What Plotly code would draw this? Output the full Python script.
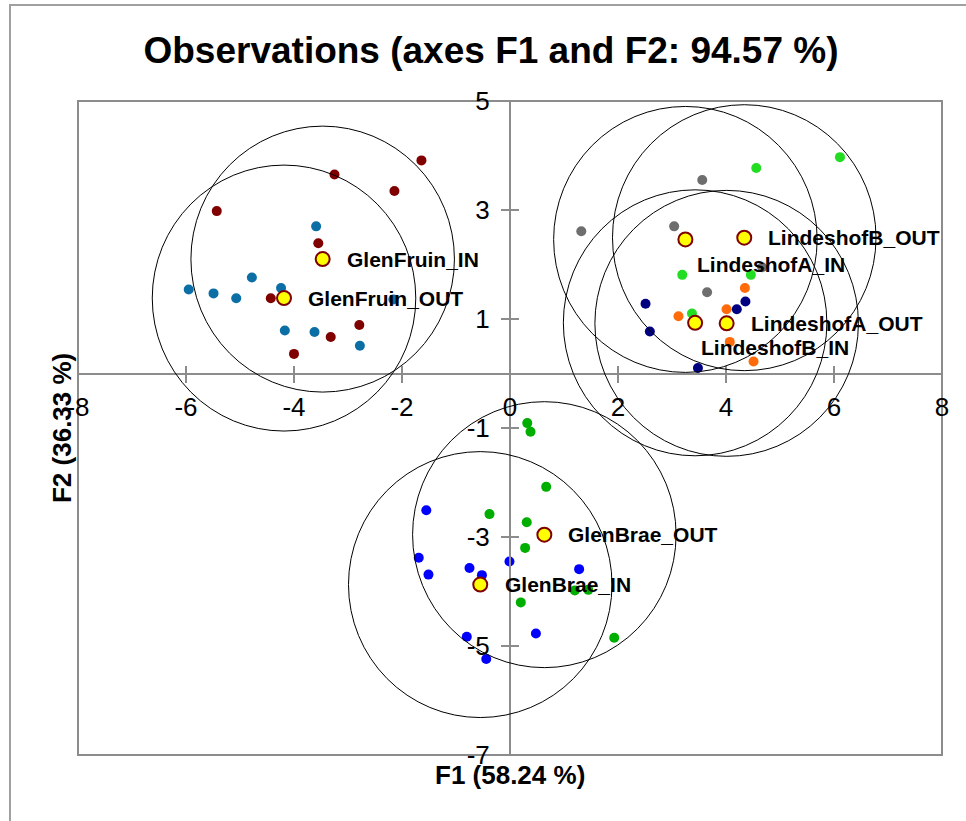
import plotly.graph_objects as go
import numpy as np

# ---------------- data ----------------
groups = ["GlenFruin_IN", "GlenFruin_OUT", "LindeshofA_IN", "LindeshofB_OUT",
          "LindeshofA_OUT", "LindeshofB_IN", "GlenBrae_OUT", "GlenBrae_IN"]

glenfruin_in_x = [-1.64, -3.25, -2.14, -5.43, -3.55, -4.43, -4.14, -2.79, -3.32, -4.00]
glenfruin_in_y = [3.91, 3.65, 3.35, 2.98, 2.39, 1.38, 1.41, 0.89, 0.67, 0.36]
glenfruin_out_x = [-3.59, -4.78, -5.95, -5.49, -5.07, -4.24, -2.16, -4.17, -3.62, -2.78]
glenfruin_out_y = [2.70, 1.76, 1.54, 1.47, 1.38, 1.57, 1.36, 0.79, 0.76, 0.51]
lindeshofA_in_x = [3.56, 1.32, 3.04, 3.65, 4.67]
lindeshofA_in_y = [3.55, 2.61, 2.70, 1.49, 1.95]
lindeshofB_out_x = [6.11, 4.56, 3.19, 4.46, 3.37]
lindeshofB_out_y = [3.97, 3.77, 1.81, 1.81, 1.10]
lindeshofA_out_x = [4.35, 4.01, 3.12, 4.07, 4.51]
lindeshofA_out_y = [1.57, 1.18, 1.05, 0.58, 0.22]
lindeshofB_in_x = [2.51, 4.36, 4.20, 2.59, 3.48]
lindeshofB_in_y = [1.28, 1.32, 1.18, 0.77, 0.10]
glenbrae_out_x = [0.32, 0.38, 0.67, -0.38, 0.31, 0.28, 1.20, 1.45, 0.20, 1.93]
glenbrae_out_y = [-0.91, -1.07, -2.08, -2.58, -2.73, -3.20, -3.98, -3.97, -4.20, -4.85]
glenbrae_in_x = [-1.55, -1.69, -1.51, -0.75, -0.52, -0.01, 1.28, -0.80, -0.44, 0.48]
glenbrae_in_y = [-2.51, -3.38, -3.69, -3.57, -3.70, -3.45, -3.59, -4.83, -5.24, -4.77]

circle_radius = [2.44, 2.44, 2.44, 2.44, 2.44, 2.44, 2.44, 2.44]

x_ticks = [-8, -6, -4, -2, 0, 2, 4, 6, 8]
x_tick_labels = ["-8", "-6", "-4", "-2", "0", "2", "4", "6", "8"]
y_ticks = [-7, -5, -3, -1, 1, 3, 5]
y_tick_labels = ["-7", "-5", "-3", "-1", "1", "3", "5"]

title_text = "Observations (axes F1 and F2: 94.57 %)"
x_title = "F1 (58.24 %)"
y_title = "F2 (36.33 %)"

# ---------------- styles ----------------
point_x = [glenfruin_in_x, glenfruin_out_x, lindeshofA_in_x, lindeshofB_out_x,
           lindeshofA_out_x, lindeshofB_in_x, glenbrae_out_x, glenbrae_in_x]
point_y = [glenfruin_in_y, glenfruin_out_y, lindeshofA_in_y, lindeshofB_out_y,
           lindeshofA_out_y, lindeshofB_in_y, glenbrae_out_y, glenbrae_in_y]
colors = ["#800000", "#0B6FA6", "#6E6E6E", "#22DD22",
          "#FF6A0A", "#000080", "#00AE00", "#0000FF"]
# label pixel offsets (xshift, yshift)
label_shift = [(22, 0), (22, 0), (10, -25), (22, 0), (22, 0), (4, -25), (22, 0), (23, 0)]

FONT = "Arial, Liberation Sans, sans-serif"
GRAY = "#8C8C8C"

fig = go.Figure()

for name, xs, ys, c in zip(groups, point_x, point_y, colors):
    fig.add_trace(go.Scatter(x=xs, y=ys, mode="markers", name=name,
                             marker=dict(size=10, color=c, line=dict(width=0)),
                             showlegend=False, hoverinfo="x+y"))

cx = [float(np.mean(v)) for v in point_x]
cy = [float(np.mean(v)) for v in point_y]

shapes = []
for x0, y0, r in zip(cx, cy, circle_radius):
    shapes.append(dict(type="circle", xref="x", yref="y",
                       x0=x0 - r, x1=x0 + r, y0=y0 - r, y1=y0 + r,
                       line=dict(color="black", width=1), layer="above"))

fig.add_trace(go.Scatter(x=cx, y=cy, mode="markers", showlegend=False,
                         marker=dict(size=14, color="#FFFF00",
                                     line=dict(color="#800000", width=2)),
                         text=groups, hoverinfo="text"))

# invisible trace to activate the overlay axes (cross ticks)
fig.add_trace(go.Scatter(x=[0], y=[0], xaxis="x2", yaxis="y2", mode="markers",
                         marker=dict(opacity=0), showlegend=False, hoverinfo="skip"))

annotations = []
for name, x0, y0, (dx, dy) in zip(groups, cx, cy, label_shift):
    annotations.append(dict(x=x0, y=y0, xref="x", yref="y", text="<b>%s</b>" % name,
                            showarrow=False, xanchor="left", yanchor="middle",
                            xshift=dx, yshift=dy,
                            font=dict(family=FONT, size=21, color="black")))

# axis titles
annotations.append(dict(x=0.5, y=-0.031, xref="paper", yref="paper",
                        text="<b>%s</b>" % x_title, showarrow=False,
                        xanchor="center", yanchor="middle",
                        font=dict(family=FONT, size=26, color="black")))
annotations.append(dict(x=-0.0185, y=0.5, xref="paper", yref="paper",
                        text="<b>%s</b>" % y_title, showarrow=False, textangle=-90,
                        xanchor="center", yanchor="middle",
                        font=dict(family=FONT, size=26, color="black")))

# plot frame and outer chart border
shapes.append(dict(type="rect", xref="paper", yref="paper", x0=0, x1=1, y0=0, y1=1,
                   line=dict(color=GRAY, width=2), layer="below"))
shapes.append(dict(type="rect", xref="paper", yref="paper",
                   x0=(10 - 78) / 864, x1=1.2, y0=-0.3, y1=1 + (101 - 5) / 654,
                   line=dict(color="#A0A0A0", width=2), layer="below"))

y0_pos = 7 / 12  # paper position of y = 0
tickfont = dict(family=FONT, size=26, color="black")

fig.update_layout(
    width=966, height=821,
    margin=dict(l=78, r=24, t=101, b=66),
    paper_bgcolor="white", plot_bgcolor="white",
    title=dict(text="<b>%s</b>" % title_text, x=491 / 966, xref="container",
               xanchor="center", y=1 - 50 / 821, yref="container", yanchor="middle",
               font=dict(family=FONT, size=37, color="black")),
    xaxis=dict(range=[-8, 8], domain=[0, 1], anchor="free", position=y0_pos,
               tickvals=x_ticks, ticktext=x_tick_labels, showgrid=False, zeroline=False,
               showline=True, linecolor=GRAY, linewidth=2,
               ticks="outside", ticklen=8, tickwidth=2, tickcolor=GRAY,
               tickfont=tickfont, ticklabelstandoff=2),
    xaxis2=dict(range=[-8, 8], overlaying="x", anchor="free", position=y0_pos,
                tickvals=x_ticks, showgrid=False, zeroline=False, showline=False,
                ticks="inside", ticklen=8, tickwidth=2, tickcolor=GRAY,
                showticklabels=False),
    yaxis=dict(range=[-7, 5], domain=[0, 1], anchor="free", position=0.5,
               tickvals=y_ticks, ticktext=y_tick_labels, showgrid=False, zeroline=False,
               showline=True, linecolor=GRAY, linewidth=2,
               ticks="outside", ticklen=8, tickwidth=2, tickcolor=GRAY,
               tickfont=tickfont, ticklabelstandoff=6),
    yaxis2=dict(range=[-7, 5], overlaying="y", anchor="free", position=0.5,
                tickvals=y_ticks, showgrid=False, zeroline=False, showline=False,
                ticks="inside", ticklen=8, tickwidth=2, tickcolor=GRAY,
                showticklabels=False),
    shapes=shapes,
    annotations=annotations,
)

fig.write_html("out.html", config={"displayModeBar": False},
               post_script="document.body.style.margin='0';document.body.style.padding='0';")
